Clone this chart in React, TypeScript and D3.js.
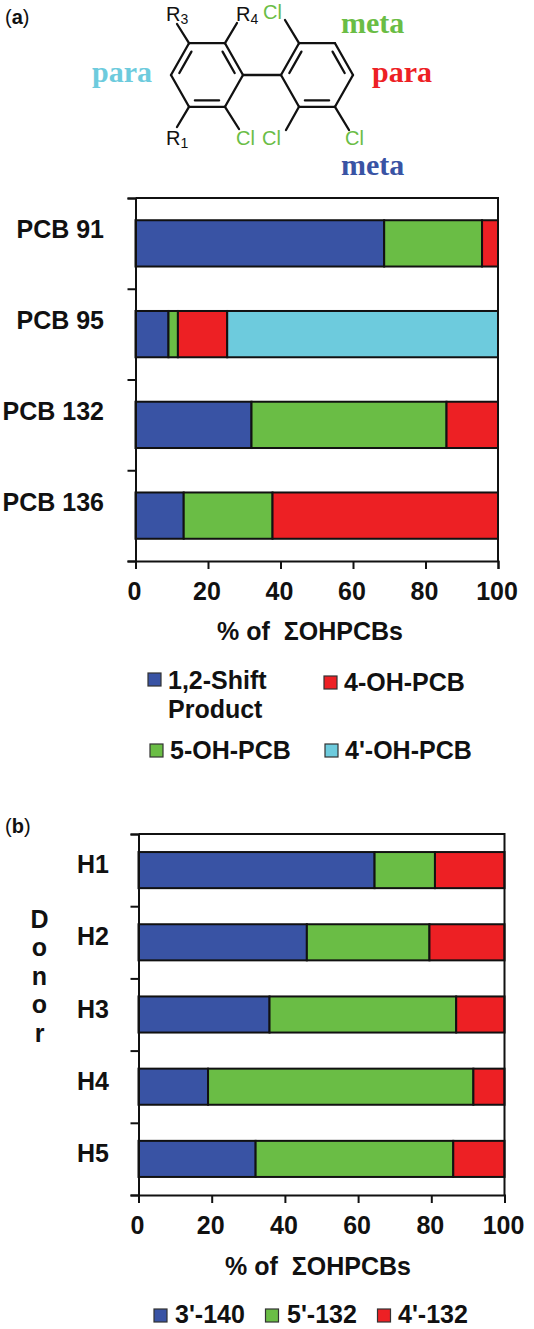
import React, { useRef, useEffect } from "react";
import * as d3 from "d3";

const BLUE = "#3953a4";
const GREEN = "#6abd45";
const RED = "#ed2024";
const CYAN = "#6dcbdd";

const congeners = ["PCB 91", "PCB 95", "PCB 132", "PCB 136"];
const shiftProduct = [68.6, 9.1, 32, 13.3];
const fiveOH = [27, 2.6, 53.8, 24.5];
const fourOH = [4.4, 13.6, 14.2, 62.2];
const fourPrimeOH = [0, 74.7, 0, 0];

const donors = ["H1", "H2", "H3", "H4", "H5"];
const m140 = [64.5, 46, 35.8, 19, 32];
const m5132 = [16.5, 33.5, 51, 72.5, 54];
const m4132 = [19, 20.5, 13.2, 8.5, 14];

const xTicks = [0, 20, 40, 60, 80, 100];
const donorLetters = ["D", "o", "n", "o", "r"];
const donorLetterY = [928, 956, 985, 1013, 1042];

const FONT = "'Liberation Sans', Arial, sans-serif";
const SERIF = "'Liberation Serif', 'Times New Roman', serif";
const INK = "#111";

function drawPanel(svg, opts) {
  const { cats, series, colors, x0, x1, y0, y1, labelX, labelDy, tickY, titleX, titleY } = opts;
  const g = svg.append("g");
  const x = d3.scaleLinear().domain([0, 100]).range([x0, x1]);
  const band = d3
    .scaleBand()
    .domain(cats)
    .range([y0, y1])
    .paddingInner(opts.padding)
    .paddingOuter(opts.padding / 2);
  const tickScale = d3.scaleLinear().domain([0, cats.length]).range([y0, y1]);

  const rows = cats.map((c, i) => {
    const r = { cat: c };
    series.forEach((s, j) => (r["s" + j] = s[i]));
    return r;
  });
  const keys = series.map((_, j) => "s" + j);
  const stacked = d3.stack().keys(keys)(rows);

  stacked.forEach((layer, j) => {
    g.append("g")
      .selectAll("rect")
      .data(layer.filter(d => d[1] > d[0]))
      .enter()
      .append("rect")
      .attr("x", d => x(d[0]))
      .attr("y", d => band(d.data.cat))
      .attr("width", d => x(d[1]) - x(d[0]))
      .attr("height", band.bandwidth())
      .attr("fill", colors[j])
      .attr("stroke", INK)
      .attr("stroke-width", 2);
  });

  // frame top and right
  g.append("path")
    .attr("d", d3.line()([[x0, y0], [x1, y0], [x1, y1]]))
    .attr("fill", "none")
    .attr("stroke", INK)
    .attr("stroke-width", 2);

  const yAxis = g
    .append("g")
    .attr("transform", `translate(${x0},0)`)
    .call(
      d3
        .axisLeft(tickScale)
        .tickValues(d3.range(cats.length + 1))
        .tickSize(8)
        .tickFormat(() => "")
    );
  const xAxis = g
    .append("g")
    .attr("transform", `translate(0,${y1})`)
    .call(d3.axisBottom(x).tickValues(xTicks).tickSize(8).tickSizeOuter(8).tickFormat(() => ""));
  [yAxis, xAxis].forEach(a => {
    a.selectAll("path,line").attr("stroke", INK).attr("stroke-width", 2);
  });

  g.append("g")
    .selectAll("text")
    .data(xTicks)
    .enter()
    .append("text")
    .attr("x", d => x(d) - 1)
    .attr("y", tickY)
    .attr("text-anchor", "middle")
    .attr("font-family", FONT)
    .attr("font-weight", "bold")
    .attr("font-size", 25)
    .attr("fill", INK)
    .text(d => d);

  g.append("g")
    .selectAll("text")
    .data(cats)
    .enter()
    .append("text")
    .attr("x", labelX)
    .attr("y", d => band(d) + band.bandwidth() / 2 + labelDy)
    .attr("text-anchor", "end")
    .attr("font-family", FONT)
    .attr("font-weight", "bold")
    .attr("font-size", 25)
    .attr("fill", INK)
    .text(d => d);

  g.append("text")
    .attr("x", titleX)
    .attr("y", titleY)
    .attr("text-anchor", "middle")
    .attr("font-family", FONT)
    .attr("font-weight", "bold")
    .attr("font-size", 25)
    .attr("fill", INK)
    .attr("xml:space", "preserve")
    .style("white-space", "pre")
    .text("% of  ΣOHPCBs");
}

function legendItem(svg, color, x, y, lines, tx, ty) {
  svg
    .append("rect")
    .attr("x", x)
    .attr("y", y)
    .attr("width", 13)
    .attr("height", 13)
    .attr("fill", color)
    .attr("stroke", "#333")
    .attr("stroke-width", 1.2);
  lines.forEach((l, i) => {
    svg
      .append("text")
      .attr("x", tx)
      .attr("y", ty + i * 29)
      .attr("font-family", FONT)
      .attr("font-weight", "bold")
      .attr("font-size", 25)
      .attr("fill", INK)
      .text(l);
  });
}

function drawMolecule(svg) {
  const g = svg.append("g");
  const stroke = (a, b) =>
    g
      .append("line")
      .attr("x1", a[0])
      .attr("y1", a[1])
      .attr("x2", b[0])
      .attr("y2", b[1])
      .attr("stroke", INK)
      .attr("stroke-width", 2.3)
      .attr("stroke-linecap", "round");

  const ring = (cx, cy, doubles) => {
    const pts = d3.range(6).map(i => {
      const ang = (Math.PI / 3) * i;
      return [cx + 36 * Math.cos(ang), cy + 36 * Math.sin(ang) * 1.02];
    });
    pts.forEach((p, i) => stroke(p, pts[(i + 1) % 6]));
    doubles.forEach(i => {
      const a = pts[i];
      const b = pts[(i + 1) % 6];
      const inner = p => [cx + (p[0] - cx) * 0.8, cy + (p[1] - cy) * 0.8];
      const ia = inner(a);
      const ib = inner(b);
      const s = [ia[0] + (ib[0] - ia[0]) * 0.08, ia[1] + (ib[1] - ia[1]) * 0.08];
      const e = [ib[0] + (ia[0] - ib[0]) * 0.08, ib[1] + (ia[1] - ib[1]) * 0.08];
      stroke(s, e);
    });
    return pts;
  };

  const left = ring(207, 75, [1, 3, 5]);
  const right = ring(317, 75, [1, 3, 5]);
  stroke(left[0], right[3]);

  stroke(left[4], [177, 24]);
  stroke(left[5], [237, 23]);
  stroke(left[2], [177, 127]);
  stroke(left[1], [239, 129]);
  stroke(right[4], [285, 20]);
  stroke(right[2], [286, 130]);
  stroke(right[1], [349, 130]);

  const label = (x, y, t, sub, color) => {
    const txt = g
      .append("text")
      .attr("x", x)
      .attr("y", y)
      .attr("font-family", FONT)
      .attr("font-size", 20)
      .attr("fill", color)
      .text(t);
    if (sub) txt.append("tspan").attr("font-size", 14).attr("dy", 3).text(sub);
  };
  label(166, 21, "R", "3", INK);
  label(236, 21, "R", "4", INK);
  label(166, 145, "R", "1", INK);
  label(263, 19, "Cl", "", GREEN);
  label(236, 145, "Cl", "", GREEN);
  label(262, 145, "Cl", "", GREEN);
  label(345, 145, "Cl", "", GREEN);

  const word = (x, y, t, color) =>
    g
      .append("text")
      .attr("x", x)
      .attr("y", y)
      .attr("font-family", SERIF)
      .attr("font-weight", "bold")
      .attr("font-size", 30)
      .attr("fill", color)
      .text(t);
  word(341, 33, "meta", GREEN);
  word(92, 82, "para", CYAN);
  word(372, 82, "para", RED);
  word(341, 175, "meta", BLUE);
}

function panelTag(svg, y, letter) {
  const t = svg
    .append("text")
    .attr("x", 5)
    .attr("y", y)
    .attr("font-family", FONT)
    .attr("font-size", 20)
    .attr("fill", INK);
  t.append("tspan").text("(");
  t.append("tspan").attr("font-weight", "bold").text(letter);
  t.append("tspan").text(")");
}

function App() {
  const ref = useRef(null);

  useEffect(() => {
    const svg = d3.select(ref.current);
    svg.selectAll("*").remove();

    panelTag(svg, 24, "a");
    drawMolecule(svg);

    drawPanel(svg, {
      cats: congeners,
      series: [shiftProduct, fiveOH, fourOH, fourPrimeOH],
      colors: [BLUE, GREEN, RED, CYAN],
      x0: 135.5,
      x1: 498,
      y0: 198,
      y1: 561,
      padding: 0.49,
      labelX: 104,
      labelDy: -5,
      tickY: 600,
      titleX: 310,
      titleY: 640,
    });
    legendItem(svg, BLUE, 148, 673, ["1,2-Shift", "Product"], 168, 689);
    legendItem(svg, RED, 324, 676, ["4-OH-PCB"], 344, 691);
    legendItem(svg, GREEN, 150, 744, ["5-OH-PCB"], 170, 759);
    legendItem(svg, CYAN, 325, 744, ["4'-OH-PCB"], 345, 759);

    panelTag(svg, 833, "b");

    drawPanel(svg, {
      cats: donors,
      series: [m140, m5132, m4132],
      colors: [BLUE, GREEN, RED],
      x0: 138.5,
      x1: 504.5,
      y0: 834,
      y1: 1195,
      padding: 0.5,
      labelX: 109,
      labelDy: 3,
      tickY: 1234,
      titleX: 318,
      titleY: 1275,
    });
    donorLetters.forEach((l, i) => {
      svg
        .append("text")
        .attr("x", 39.5)
        .attr("y", donorLetterY[i])
        .attr("text-anchor", "middle")
        .attr("font-family", FONT)
        .attr("font-weight", "bold")
        .attr("font-size", 25)
        .attr("fill", INK)
        .text(l);
    });
    legendItem(svg, BLUE, 154, 1309, ["3'-140"], 175, 1323);
    legendItem(svg, GREEN, 265.5, 1309, ["5'-132"], 287, 1323);
    legendItem(svg, RED, 377.5, 1309, ["4'-132"], 398, 1323);
  }, []);

  return (
    <svg
      ref={ref}
      width={534}
      height={1329}
      style={{ position: "absolute", left: 0, top: 0, background: "#fff" }}
    />
  );
}

export default App;
